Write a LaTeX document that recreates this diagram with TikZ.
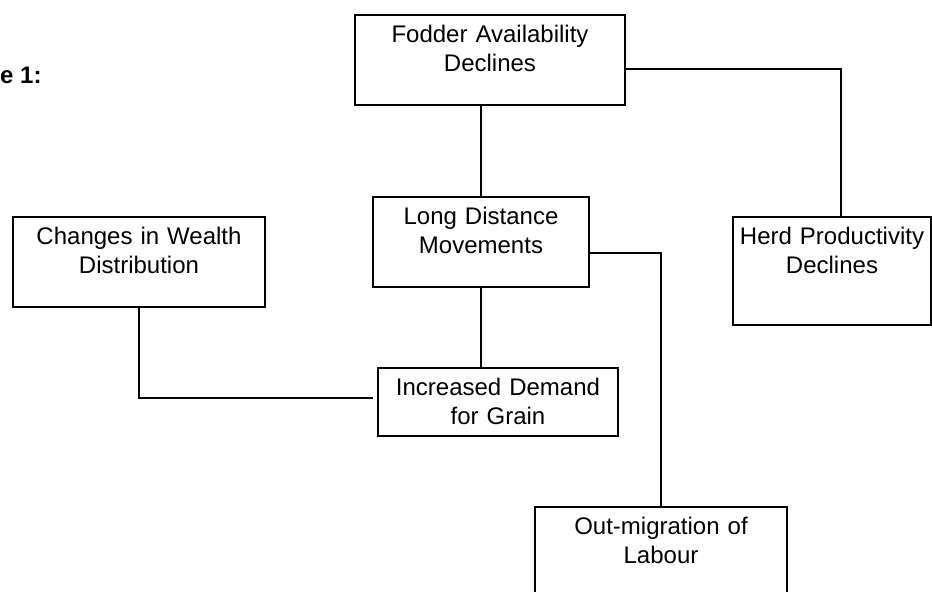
\documentclass[tikz,border=0pt]{standalone}
\usepackage{fontspec}
\setmainfont{Liberation Sans}
\begin{document}
\begin{tikzpicture}[x=0.5pt, y=-0.5pt,
    box/.style={draw, line width=1pt, outer sep=0pt, inner sep=0pt,
      align=center, anchor=north west, text height=14pt,
      font=\fontsize{12}{14.5}\selectfont},
    link/.style={line width=1pt}]
  \useasboundingbox (0,0) rectangle (932,592);
  \clip (0,0) rectangle (932,592);

  % Titolo (tagliato a sinistra)
  \node[anchor=east, inner sep=0pt, font=\bfseries\fontsize{12}{14.5}\selectfont] (title) at (42,75) {e 1:};

  % Riquadri
  \node[box, text width=135pt, text depth=31pt] (fodder) at (355,15) {Fodder Availability\\Declines};
  \node[box, text width=108pt, text depth=31pt] (long) at (373,197) {Long Distance\\Movements};
  \node[box, text width=99pt, text depth=40pt] (herd) at (733,217) {Herd Productivity\\Declines};
  \node[box, text width=126pt, text depth=31pt] (changes) at (13,217) {Changes in Wealth\\Distribution};
  \node[box, text width=120pt, text depth=20pt] (incr) at (378,368) {Increased Demand\\for Grain};
  \node[box, text width=126pt, text depth=31pt] (outmig) at (535,507) {Out-migration of\\Labour};

  % Collegamenti
  \draw[link] (long.north |- fodder.south) -- (long.north);
  \draw[link] ([yshift=-4.5pt]fodder.east) -| ([xshift=4.25pt]herd.north);
  \draw[link] ([yshift=-5.5pt]long.east) -| (outmig.north);
  \draw[link] (long.south) -- (long.south |- incr.north);
  \draw[link, shorten >=2.5pt] (changes.south) |- ([yshift=2pt]incr.west);
\end{tikzpicture}
\end{document}
